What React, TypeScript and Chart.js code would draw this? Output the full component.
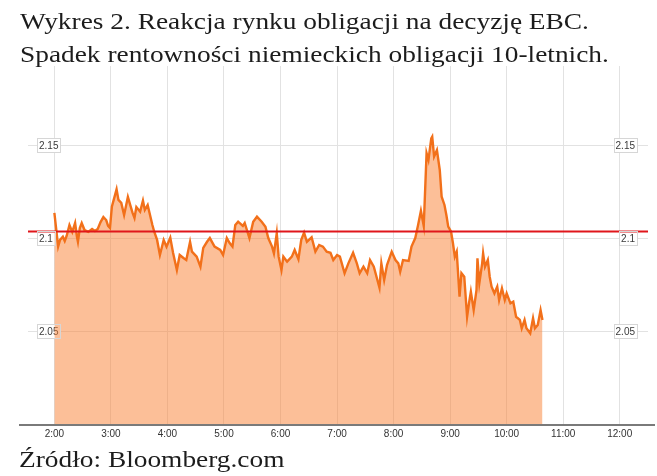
import React, { useEffect, useRef } from "react";
import { Chart, registerables } from "chart.js";

Chart.register(...registerables);

const titleLines = [
  "Wykres 2. Reakcja rynku obligacji na decyzję EBC.",
  "Spadek rentowności niemieckich obligacji 10-letnich.",
];
const sourceText = "Źródło: Bloomberg.com";

// minutes after 2:00
const minutesAfterTwo = [
  0, 4, 6, 9, 11, 13, 16, 19, 22, 24,
  25, 27, 29, 32, 36, 40, 43, 46, 49, 52,
  55, 57, 59, 61, 66, 68, 71, 74, 78, 81,
  83, 85, 87, 91, 94, 96, 99, 101, 104, 106,
  109, 112, 116, 119, 123, 126, 130, 133, 137, 140,
  144, 146, 151, 155, 158, 162, 165, 170, 176, 179,
  183, 186, 189, 192, 195, 200, 202, 207, 211, 215,
  220, 224, 227, 231, 233, 236, 238, 241, 243, 247,
  252, 255, 259, 262, 265, 268, 273, 277, 281, 285,
  289, 293, 296, 300, 303, 308, 312, 317, 321, 324,
  328, 332, 335, 339, 345, 347, 350, 353, 358, 362,
  365, 367, 370, 376, 379, 383, 386, 389, 392, 395,
  397, 400, 401, 403, 406, 409, 411, 414, 416, 418,
  421, 423, 425, 427, 430, 432, 435, 438, 440, 442,
  445, 448, 449, 451, 454, 455, 457, 460, 462, 464,
  467, 470, 472, 475, 478, 480, 484, 487, 490, 494,
  496, 499, 501, 505, 508, 510, 513, 516, 518,
];

// German 10Y yield
const yields = [
  2.114, 2.0959, 2.0995, 2.1012, 2.0989, 2.1016, 2.1075, 2.1038, 2.1086, 2.1011,
  2.0985, 2.1059, 2.1086, 2.1048, 2.1038, 2.1054, 2.1043, 2.1054, 2.1091, 2.1118,
  2.1102, 2.107, 2.1059, 2.1174, 2.1267, 2.121, 2.1194, 2.1129, 2.1226, 2.1174,
  2.114, 2.1113, 2.1172, 2.1147, 2.1206, 2.1156, 2.1183, 2.114, 2.1075, 2.1039,
  2.0995, 2.0914, 2.0995, 2.0959, 2.1007, 2.0925, 2.0833, 2.0914, 2.0898, 2.0887,
  2.0985, 2.0932, 2.0905, 2.0851, 2.0952, 2.0985, 2.1005, 2.0959, 2.0941, 2.0914,
  2.1005, 2.0978, 2.0959, 2.1075, 2.1093, 2.107, 2.1086, 2.1005, 2.1093, 2.112,
  2.1093, 2.1066, 2.1005, 2.0959, 2.0923, 2.1031, 2.0905, 2.0833, 2.0905, 2.0878,
  2.0905, 2.0941, 2.0891, 2.0995, 2.1034, 2.0985, 2.1009, 2.0932, 2.0968, 2.0959,
  2.0932, 2.0926, 2.0887, 2.0914, 2.0905, 2.0816, 2.0869, 2.0926, 2.0869, 2.0816,
  2.0851, 2.0816, 2.0887, 2.0851, 2.0738, 2.0869, 2.078, 2.086, 2.0932, 2.0887,
  2.0869, 2.0824, 2.0887, 2.0882, 2.0959, 2.1005, 2.1075, 2.1151, 2.107, 2.1461,
  2.1425, 2.1541, 2.155, 2.1443, 2.1478, 2.1371, 2.1227, 2.1183, 2.1129, 2.1066,
  2.1039, 2.0977, 2.0905, 2.0932, 2.069, 2.0816, 2.0797, 2.0582, 2.0654, 2.0717,
  2.0618, 2.0726, 2.0896, 2.0762, 2.0869, 2.0923, 2.0851, 2.0887, 2.0797, 2.0744,
  2.0708, 2.0744, 2.0672, 2.0735, 2.0672, 2.0708, 2.0654, 2.0663, 2.0582, 2.0565,
  2.052, 2.0565, 2.052, 2.0493, 2.0574, 2.052, 2.0538, 2.0618, 2.0565,
];

const referenceLevel = 2.104;

const hourTicks = [0, 60, 120, 180, 240, 300, 360, 420, 480, 540, 600];
const hourLabels = ["2:00", "3:00", "4:00", "5:00", "6:00", "7:00", "8:00", "9:00", "10:00", "11:00", "12:00"];
const yTicks = [2.05, 2.1, 2.15];
const yTickLabels = ["2.05", "2.1", "2.15"];

const X_MIN = -28;
const X_MAX = 630;
const Y_MIN = 2.0;
const Y_MAX = 2.193;

const LEFT_LABEL_PAD = 11;
const RIGHT_LABEL_PAD = 13;
const LABEL_FONT = "10px 'Liberation Sans', Arial, sans-serif";

const decorPlugin = {
  id: "decor",
  afterDatasetsDraw(chart: any) {
    const { ctx, chartArea } = chart;
    ctx.save();
    ctx.strokeStyle = "#7a7a7a";
    ctx.lineWidth = 2;
    ctx.beginPath();
    ctx.moveTo(chartArea.left - 9, chartArea.bottom);
    ctx.lineTo(chartArea.right + 7, chartArea.bottom);
    ctx.stroke();
    ctx.restore();
  },
  afterDraw(chart: any) {
    const { ctx, chartArea } = chart;
    const yScale = chart.scales.y;
    ctx.save();
    ctx.font = LABEL_FONT;
    ctx.strokeStyle = "#d6d6d6";
    ctx.lineWidth = 1;
    yTicks.forEach((v, i) => {
      const py = Math.round(yScale.getPixelForValue(v));
      const w = ctx.measureText(yTickLabels[i]).width;
      const lx = chartArea.left + LEFT_LABEL_PAD;
      ctx.strokeRect(Math.round(lx - 2) + 0.5, py - 7.5, Math.round(w + 4), 14);
      const rx = chartArea.right - RIGHT_LABEL_PAD;
      ctx.strokeRect(Math.round(rx - w - 2) + 0.5, py - 7.5, Math.round(w + 4), 14);
    });
    ctx.restore();
  },
};

export default function App() {
  const canvasRef = useRef<HTMLCanvasElement | null>(null);

  useEffect(() => {
    document.body.style.margin = "0";
    const canvas = canvasRef.current;
    if (!canvas) return;
    const yieldPoints = minutesAfterTwo.map((t, i) => ({ x: t, y: yields[i] }));
    const refPoints = [
      { x: X_MIN, y: referenceLevel },
      { x: X_MAX, y: referenceLevel },
    ];
    const yTickFont = { family: "'Liberation Sans', Arial, sans-serif", size: 10 };
    const yLabelCb = (v: any) => {
      const i = yTicks.indexOf(Number(v));
      return i >= 0 ? yTickLabels[i] : "";
    };
    const chart = new Chart(canvas, {
      type: "line",
      data: {
        datasets: [
          {
            data: refPoints,
            borderColor: "#e0161b",
            borderWidth: 2,
            pointRadius: 0,
            fill: false,
            order: 0,
          },
          {
            data: yieldPoints,
            borderColor: "#f2701a",
            borderWidth: 2.4,
            pointRadius: 0,
            fill: "start",
            backgroundColor: "rgba(250,128,50,0.5)",
            tension: 0,
            order: 1,
          },
        ],
      },
      options: {
        animation: false,
        responsive: false,
        layout: { padding: { left: 28, right: 9, top: 66, bottom: 21 } },
        plugins: { legend: { display: false }, tooltip: { enabled: false } },
        scales: {
          x: {
            type: "linear",
            min: X_MIN,
            max: X_MAX,
            afterBuildTicks: (axis: any) => {
              axis.ticks = hourTicks.map((v) => ({ value: v }));
            },
            afterFit: (scale: any) => {
              scale.height = 30;
            },
            grid: { color: "#e2e2e2", lineWidth: 1, drawTicks: false },
            border: { display: false },
            ticks: {
              padding: 3,
              color: "#333333",
              font: { family: "'Liberation Sans', Arial, sans-serif", size: 10 },
              maxRotation: 0,
              autoSkip: false,
              callback: (v: any) => {
                const i = hourTicks.indexOf(Number(v));
                return i >= 0 ? hourLabels[i] : "";
              },
            },
          },
          y: {
            type: "linear",
            position: "left",
            min: Y_MIN,
            max: Y_MAX,
            afterBuildTicks: (axis: any) => {
              axis.ticks = yTicks.map((v) => ({ value: v }));
            },
            afterFit: (scale: any) => {
              scale.width = 0;
            },
            grid: { color: "#e2e2e2", lineWidth: 1, drawTicks: false },
            border: { display: false },
            ticks: {
              mirror: true,
              padding: LEFT_LABEL_PAD,
              color: "#3a3a3a",
              font: yTickFont,
              showLabelBackdrop: true,
              backdropColor: "#ffffff",
              backdropPadding: { left: 2, right: 2, top: 1, bottom: 1 },
              callback: yLabelCb,
            },
          },
          y2: {
            type: "linear",
            position: "right",
            min: Y_MIN,
            max: Y_MAX,
            afterBuildTicks: (axis: any) => {
              axis.ticks = yTicks.map((v) => ({ value: v }));
            },
            afterFit: (scale: any) => {
              scale.width = 0;
            },
            grid: { display: false, drawTicks: false },
            border: { display: false },
            ticks: {
              mirror: true,
              padding: -RIGHT_LABEL_PAD,
              color: "#3a3a3a",
              font: yTickFont,
              showLabelBackdrop: true,
              backdropColor: "#ffffff",
              backdropPadding: { left: 2, right: 2, top: 1, bottom: 1 },
              callback: yLabelCb,
            },
          },
        },
      },
      plugins: [decorPlugin],
    } as any);
    return () => chart.destroy();
  }, []);

  const serif = "'Liberation Serif', 'Times New Roman', serif";
  const textStyle: React.CSSProperties = {
    position: "absolute",
    left: 20,
    fontFamily: serif,
    fontSize: 24,
    color: "#1c1c1c",
    whiteSpace: "nowrap",
    transform: "scaleX(1.14)",
    transformOrigin: "left top",
  };

  return (
    <div style={{ position: "relative", width: 657, height: 476, background: "#fff", overflow: "hidden" }}>
      <canvas
        ref={canvasRef}
        width={657}
        height={476}
        style={{ position: "absolute", left: 0, top: 0, width: 657, height: 476 }}
      />
      <div style={{ ...textStyle, top: 5, lineHeight: "33px" }}>
        {titleLines.map((l, i) => (
          <div key={i}>{l}</div>
        ))}
      </div>
      <div style={{ ...textStyle, left: 19, top: 447, lineHeight: "24px" }}>{sourceText}</div>
    </div>
  );
}
